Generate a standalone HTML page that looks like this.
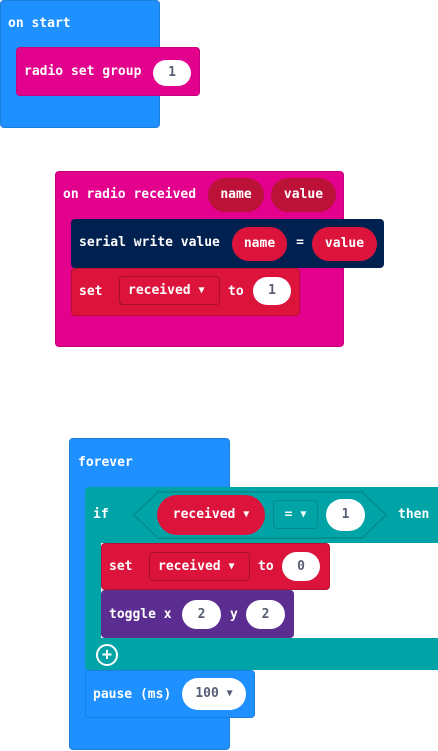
<!DOCTYPE html>
<html><head><meta charset="utf-8"><style>
body{margin:0;width:438px;height:751px;background:#fff;position:relative;overflow:hidden;font-family:"DejaVu Sans Mono","Liberation Mono",monospace;font-weight:bold;font-size:13px;color:#fff}
.b{position:absolute;border-radius:4px}
.t{position:absolute;white-space:pre;line-height:16px}
.p{position:absolute;border-radius:17px;text-align:center;white-space:pre}
.w{background:#fff;color:#575e75}
.d{position:absolute;border:1px solid rgba(0,0,0,.25);border-radius:4px;white-space:pre;box-sizing:border-box}
.a{font-size:10px;vertical-align:1px}
</style></head><body>
<!-- on start -->
<div class="b" style="left:0;top:0;width:160px;height:128px;background:#1e90ff;border:1px solid #1a7fe0;box-sizing:border-box"></div>
<div class="t" style="left:8px;top:16px">on start</div>
<div class="b" style="left:16px;top:47px;width:184px;height:49px;background:#e3008c;border:1px solid #c4007a;box-sizing:border-box"></div>
<div class="t" style="left:24px;top:64px">radio set group</div>
<div class="p w" style="left:153px;top:60px;width:38px;height:26px;line-height:26px">1</div>

<!-- on radio received -->
<div class="b" style="left:55px;top:171px;width:289px;height:176px;background:#e3008c;border:1px solid #c4007a;box-sizing:border-box"></div>
<div class="t" style="left:63px;top:187px">on radio received</div>
<div class="p" style="left:208px;top:178px;width:56px;height:34px;line-height:34px;background:#bd1237">name</div>
<div class="p" style="left:271px;top:178px;width:65px;height:34px;line-height:34px;background:#bd1237">value</div>
<div class="b" style="left:71px;top:219px;width:313px;height:49px;background:#002050"></div>
<div class="t" style="left:79px;top:235px">serial write value</div>
<div class="p" style="left:232px;top:227px;width:55px;height:34px;line-height:34px;background:#dc143c">name</div>
<div class="t" style="left:290px;top:235px;width:20px;text-align:center">=</div>
<div class="p" style="left:312px;top:227px;width:65px;height:34px;line-height:34px;background:#dc143c">value</div>
<div class="b" style="left:71px;top:268px;width:229px;height:48px;background:#dc143c;border:1px solid #b8102f;box-sizing:border-box"></div>
<div class="t" style="left:79px;top:284px">set</div>
<div class="d" style="left:119px;top:276px;width:101px;height:29px;line-height:27px;padding-left:8px">received <span class="a">▼</span></div>
<div class="t" style="left:228px;top:284px">to</div>
<div class="p w" style="left:253px;top:277px;width:38px;height:28px;line-height:28px">1</div>

<!-- forever -->
<div class="b" style="left:69px;top:438px;width:161px;height:312px;background:#1e90ff;border:1px solid #1a7fe0;box-sizing:border-box"></div>
<div class="t" style="left:78px;top:455px">forever</div>
<div class="b" style="left:85px;top:487px;width:360px;height:183px;background:#00a4a6"></div>
<div class="b" style="left:101px;top:543px;width:340px;height:95px;background:#fff;border-radius:0"></div>
<svg style="position:absolute;left:130px;top:489px" width="262" height="52"><polygon points="4,26 28,3 232,3 256,26 232,49 28,49" fill="#00a4a6" stroke="#008a8c" stroke-width="1.5"/></svg>
<div class="t" style="left:93px;top:507px">if</div>
<div class="p" style="left:157px;top:495px;width:108px;height:40px;line-height:40px;background:#dc143c;border-radius:20px">received <span class="a">▼</span></div>
<div class="d" style="left:273px;top:500px;width:45px;height:29px;line-height:27px;text-align:center;border-color:#008a8c">= <span class="a">▼</span></div>
<div class="p w" style="left:326px;top:499px;width:39px;height:32px;line-height:32px">1</div>
<div class="t" style="left:398px;top:507px">then</div>
<div class="b" style="left:101px;top:543px;width:229px;height:47px;background:#dc143c;border:1px solid #b8102f;box-sizing:border-box"></div>
<div class="t" style="left:109px;top:559px">set</div>
<div class="d" style="left:149px;top:552px;width:101px;height:29px;line-height:27px;padding-left:8px">received <span class="a">▼</span></div>
<div class="t" style="left:258px;top:559px">to</div>
<div class="p w" style="left:282px;top:552px;width:38px;height:29px;line-height:29px">0</div>
<div class="b" style="left:101px;top:590px;width:193px;height:48px;background:#5c2d91"></div>
<div class="t" style="left:109px;top:607px">toggle x</div>
<div class="p w" style="left:182px;top:600px;width:39px;height:29px;line-height:29px">2</div>
<div class="t" style="left:230px;top:607px">y</div>
<div class="p w" style="left:246px;top:600px;width:39px;height:29px;line-height:29px">2</div>
<div style="position:absolute;left:96px;top:644px;width:18px;height:18px;border:2px solid #fff;border-radius:50%;text-align:center;line-height:18px;font-size:17px">+</div>
<div class="b" style="left:85px;top:670px;width:170px;height:48px;background:#1e90ff;border:1px solid #1a7fe0;box-sizing:border-box"></div>
<div class="t" style="left:93px;top:687px">pause (ms)</div>
<div class="p w" style="left:182px;top:678px;width:64px;height:32px;line-height:32px">100 <span class="a">▼</span></div>
</body></html>
